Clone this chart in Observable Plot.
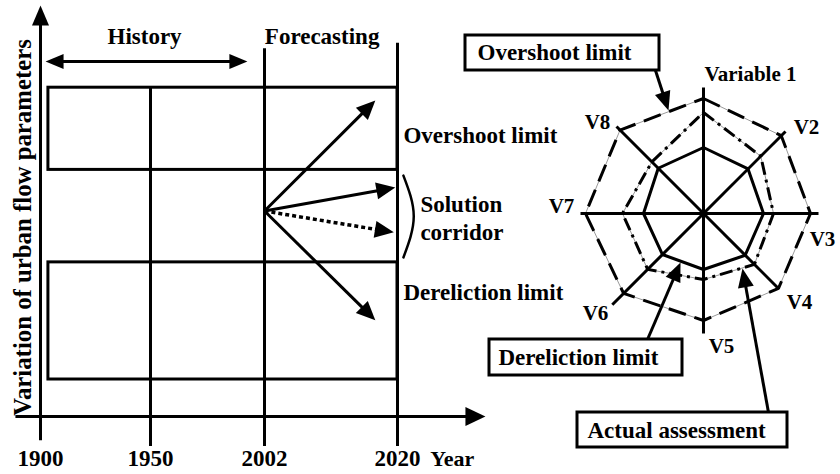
<!DOCTYPE html>
<html><head><meta charset="utf-8">
<script src="https://cdn.jsdelivr.net/npm/d3@7"></script>
<script src="https://cdn.jsdelivr.net/npm/@observablehq/plot@0.6"></script>
<style>
html,body{margin:0;padding:0;background:#fff}
#wrap{position:relative;width:840px;height:474px;overflow:hidden}
#wrap svg{position:absolute;left:0;top:0}
</style>
</head><body><div id="wrap"></div>
<script>
// ---------------- Left panel data (x = year, y = variation level 0..100) ----------------
const tickYears = [1900, 1950, 2002, 2020];
const tickLabels = ["1900", "1950", "2002", "2020"];
const markerYears = [1950, 2002, 2020];
const markerTops = [80, 89.5, 90.8];
const bandNames = ["Overshoot limit", "Dereliction limit"];
const bandLow = [60, 9];
const bandHigh = [80, 37.5];
const bandStartYear = 1903.6;
const forecastStartYear = 2002;
const forecastStartLevel = 50;
const scenarioYears = [2017, 2019.7, 2019.5, 2017];
const scenarioLevels = [76.9, 55.7, 44.8, 23.4];
const scenarioDotted = [false, false, true, false];
const historySpan = [1902.3, 1994.2];
const historyLevel = 86.4;
const periodNames = ["History", "Forecasting"];
const periodYears = [1947.3, 2009.8];

// ---------------- Radar data ----------------
const radarVars = ["Variable 1", "V2", "V3", "V4", "V5", "V6", "V7", "V8"];
const axisLength = [126, 116, 115, 106, 120, 129, 123, 123];
const overshootLimit = [115, 110, 107, 106, 107, 113, 118, 118];
const actualAssessment = [101, 81, 70, 72, 66, 79, 81, 73];
const derelictionLimit = [66, 63, 60, 59, 56, 58, 60, 64];

// ---------------- Layout ----------------
const W = 840, H = 474;
const FONT = "Liberation Serif";
// schematic (non-uniform) time axis: years -> timeline position
const timeline = d3.scaleLinear([1900, 1950, 2002, 2020], [40, 150, 264, 397]);
const leftX = {domain: [0, W], range: [0, W], transform: d => timeline(d)};
const leftY = {domain: [0, 100], range: [416, 5]};
const radX = {domain: [0, 100], range: [703, 803]};
const radY = {domain: [0, 100], range: [213, 113]};

function headSymbol(L, Wd) {
  return {draw(ctx) { ctx.moveTo(0, 0); ctx.lineTo(-Wd / 2, L); ctx.lineTo(Wd / 2, L); ctx.closePath(); }};
}
function arrowMarks(segs, sx, sy, {L = 20, Wd = 17, sw = 3, dash = null, both = false} = {}) {
  const shafts = [], heads = [];
  for (const s of segs) {
    const px1 = sx(s.x1), py1 = sy(s.y1), px2 = sx(s.x2), py2 = sy(s.y2);
    const dx = px2 - px1, dy = py2 - py1, len = Math.hypot(dx, dy), ux = dx / len, uy = dy / len;
    const back = L * 0.8;
    let a = [px1, py1];
    const b = [px2 - ux * back, py2 - uy * back];
    heads.push({x: s.x2, y: s.y2, rot: Math.atan2(dx, -dy) * 180 / Math.PI});
    if (both) {
      a = [px1 + ux * back, py1 + uy * back];
      heads.push({x: s.x1, y: s.y1, rot: Math.atan2(-dx, dy) * 180 / Math.PI});
    }
    shafts.push({x1: sx.invert(a[0]), y1: sy.invert(a[1]), x2: sx.invert(b[0]), y2: sy.invert(b[1])});
  }
  const linkOpts = {x1: "x1", y1: "y1", x2: "x2", y2: "y2", stroke: "black", strokeWidth: sw};
  if (dash) linkOpts.strokeDasharray = dash;
  return [
    Plot.link(shafts, linkOpts),
    Plot.dot(heads, {x: "x", y: "y", rotate: "rot", symbol: headSymbol(L, Wd), fill: "black", stroke: "none", r: 5})
  ];
}
const txt = {fontFamily: FONT, fontWeight: "bold", fill: "black"};

// ---------------- Left panel ----------------
const lsx = timeline; // years -> pixels (identity range after transform)
const lsy = d3.scaleLinear(leftY.domain, leftY.range);

const bands = bandNames.map((n, i) => ({name: n, x1: bandStartYear, x2: 2020, y1: bandLow[i], y2: bandHigh[i]}));
const markers = markerYears.map((y, i) => ({x: y, y1: -7.3, y2: markerTops[i]}));
const scenarios = scenarioYears.map((y, i) => ({x1: forecastStartYear, y1: forecastStartLevel, x2: y, y2: scenarioLevels[i], dotted: scenarioDotted[i]}));
const ticks = tickYears.map((y, i) => ({x: y, label: tickLabels[i]}));

const left = Plot.plot({
  width: W, height: H, margin: 0,
  x: {...leftX, axis: null},
  y: {...leftY, axis: null},
  style: {background: "transparent", fontFamily: FONT},
  marks: [
    Plot.rect(bands, {x1: "x1", x2: "x2", y1: "y1", y2: "y2", fill: "none", stroke: "black", strokeWidth: 3}),
    Plot.ruleX(markers, {x: "x", y1: "y1", y2: "y2", stroke: "black", strokeWidth: 3}),
    // axes
    ...arrowMarks([{x1: 1900, y1: -5.8, x2: 1900, y2: 100}], lsx, lsy, {L: 20, Wd: 17}),
    ...arrowMarks([{x1: 1888.6, y1: 0, x2: 2031.9, y2: 0}], lsx, lsy, {L: 20, Wd: 19}),
    // history double arrow
    ...arrowMarks([{x1: historySpan[0], y1: historyLevel, x2: historySpan[1], y2: historyLevel}], lsx, lsy, {L: 18, Wd: 15, both: true}),
    // scenario arrows
    ...arrowMarks(scenarios.filter(d => !d.dotted), lsx, lsy, {L: 19, Wd: 17}),
    ...arrowMarks(scenarios.filter(d => d.dotted), lsx, lsy, {L: 19, Wd: 17, sw: 3.5, dash: "4,3"}),
    // bracket
    Plot.line([{x: 2020.8, y: 58.6}, {x: 2022.2, y: 48.7}, {x: 2020.8, y: 38.7}], {x: "x", y: "y", curve: "natural", stroke: "black", strokeWidth: 2.5}),
    // texts
    Plot.text(periodNames, {x: (d, i) => periodYears[i], y: 92.5, text: d => d, fontSize: 23, ...txt}),
    Plot.text(ticks, {x: "x", y: -10.3, text: "label", fontSize: 23, ...txt}),
    Plot.text(["Year"], {x: 2027.4, y: -10.3, text: d => d, fontSize: 22, ...txt}),
    Plot.text([bandNames[0]], {x: 2020.8, y: 68.4, text: d => d, textAnchor: "start", fontSize: 23, ...txt}),
    Plot.text([bandNames[1]], {x: 2020.8, y: 30.2, text: d => d, textAnchor: "start", fontSize: 23, ...txt}),
    Plot.text(["Solution", "corridor"], {x: 2023.1, y: (d, i) => [51.6, 44.8][i], text: d => d, textAnchor: "start", fontSize: 23, ...txt}),
    Plot.text(["Variation of urban flow parameters"], {x: 1892.2, y: 46, text: d => d, rotate: -90, fontSize: 24.8, ...txt})
  ]
});

// ---------------- Radar panel ----------------
const rsx = d3.scaleLinear(radX.domain, radX.range);
const rsy = d3.scaleLinear(radY.domain, radY.range);
const ang = i => i * Math.PI / 4;
const poly = vals => [...vals, vals[0]].map((r, i) => ({x: r * Math.sin(ang(i % 8)), y: r * Math.cos(ang(i % 8))}));
const spokes = axisLength.map((r, i) => ({x1: 0, y1: 0, x2: r * Math.sin(ang(i)), y2: r * Math.cos(ang(i))}));

const labelPos = [[47, 139], [103, 86], [119, -26], [96, -89], [18, -133], [-108, -100], [-142, 7], [-106, 91]];
const radarLabels = radarVars.map((v, i) => ({text: v, x: labelPos[i][0], y: labelPos[i][1]}));

const boxes = [
  {text: "Overshoot limit", x1: -238, x2: -44, y1: 143, y2: 178, tx: -226, ty: 161},
  {text: "Dereliction limit", x1: -214, x2: -21, y1: -162, y2: -126, tx: -205, ty: -144},
  {text: "Actual assessment", x1: -126, x2: 84, y1: -234, y2: -199, tx: -116, ty: -217}
];
const pointers = [
  {x1: -48, y1: 143, x2: -35, y2: 103},
  {x1: -56, y1: -126, x2: -23, y2: -49},
  {x1: 65, y1: -199, x2: 39, y2: -55}
];

const radar = Plot.plot({
  width: W, height: H, margin: 0,
  x: {...radX, axis: null},
  y: {...radY, axis: null},
  style: {background: "transparent", fontFamily: FONT},
  marks: [
    Plot.line(poly(overshootLimit), {x: "x", y: "y", stroke: "#9a9a9a", strokeWidth: 1}),
    Plot.line(poly(overshootLimit), {x: "x", y: "y", stroke: "black", strokeWidth: 3, strokeDasharray: "18,9", strokeLinecap: "butt", strokeLinejoin: "miter"}),
    Plot.line(poly(actualAssessment), {x: "x", y: "y", stroke: "#9a9a9a", strokeWidth: 1}),
    Plot.line(poly(actualAssessment), {x: "x", y: "y", stroke: "black", strokeWidth: 3, strokeDasharray: "13,5,3,5", strokeLinecap: "butt", strokeLinejoin: "miter"}),
    Plot.line(poly(derelictionLimit), {x: "x", y: "y", stroke: "black", strokeWidth: 3, strokeLinejoin: "miter"}),
    Plot.link(spokes, {x1: "x1", y1: "y1", x2: "x2", y2: "y2", stroke: "black", strokeWidth: 3}),
    ...arrowMarks(pointers, rsx, rsy, {L: 19, Wd: 16}),
    Plot.rect(boxes, {x1: "x1", x2: "x2", y1: "y1", y2: "y2", fill: "white", stroke: "black", strokeWidth: 3}),
    Plot.text(boxes, {x: "tx", y: "ty", text: "text", textAnchor: "start", fontSize: 23, ...txt}),
    Plot.text(radarLabels, {x: "x", y: "y", text: "text", fontSize: 21, ...txt})
  ]
});

const wrap = document.getElementById("wrap");
wrap.appendChild(left);
wrap.appendChild(radar);
</script>
</body></html>
